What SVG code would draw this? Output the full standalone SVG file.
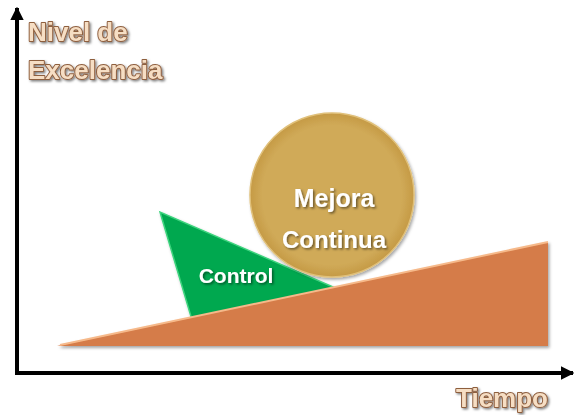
<svg xmlns="http://www.w3.org/2000/svg" width="577" height="415" viewBox="0 0 577 415">
<defs>
<style>
.axis{stroke:#000;stroke-width:4;fill:none}
.lbl{font-family:"Liberation Sans",Arial,sans-serif;font-weight:bold;font-size:26px;fill:#F6DEC4;stroke:#8E5E3E;stroke-width:2;paint-order:stroke;stroke-linejoin:round}
.wt{font-family:"Liberation Sans",Arial,sans-serif;font-weight:bold;fill:#fff;text-anchor:middle}
</style>
<marker id="ah" viewBox="0 0 10 10" refX="9" refY="5" markerWidth="3.4" markerHeight="3.4" orient="auto">
<path d="M0,0 L10,5 L0,10 z" fill="#000"/>
</marker>
<filter id="sh" x="-20%" y="-20%" width="140%" height="140%">
<feDropShadow dx="1.5" dy="2" stdDeviation="1.5" flood-color="#000" flood-opacity="0.35"/>
</filter>
<filter id="tsh" x="-20%" y="-30%" width="140%" height="160%">
<feDropShadow dx="1.5" dy="1.5" stdDeviation="1" flood-color="#000" flood-opacity="0.5"/>
</filter>
<radialGradient id="cg" cx="0.5" cy="0.5" r="0.5">
<stop offset="0.85" stop-color="#D0AA58"/>
<stop offset="1" stop-color="#C59A45"/>
</radialGradient>
</defs>
<g id="axes" class="connectors">
<line class="axis" x1="17" y1="374" x2="17" y2="8" marker-end="url(#ah)"/>
<line class="axis" x1="15" y1="373" x2="573" y2="373" marker-end="url(#ah)"/>
</g>
<g id="control" filter="url(#sh)">
<polygon points="160,212 192,320 340,290" fill="#00A84F" stroke="#3ED47E" stroke-width="1.5"/>
<text class="wt" x="236" y="283" font-size="21" filter="url(#tsh)">Control</text>
</g>
<g id="rampa" filter="url(#sh)">
<polygon points="57,346 548,242 548,346" fill="#D57C48"/>
<line x1="60" y1="345" x2="548" y2="242" stroke="#F6B98A" stroke-width="2"/>
</g>
<g id="mejora" filter="url(#sh)">
<circle cx="332" cy="195" r="82" fill="url(#cg)" stroke="#E0C07A" stroke-width="1.5"/>
<text class="wt" x="334" y="207" font-size="25" filter="url(#tsh)">Mejora</text>
<text class="wt" x="334" y="248" font-size="24" filter="url(#tsh)">Continua</text>
</g>
<g id="labels" filter="url(#tsh)">
<text class="lbl" x="28" y="41">Nivel de</text>
<text class="lbl" x="28" y="79">Excelencia</text>
<text class="lbl" x="456" y="407" font-size="27">Tiempo</text>
</g>
</svg>
